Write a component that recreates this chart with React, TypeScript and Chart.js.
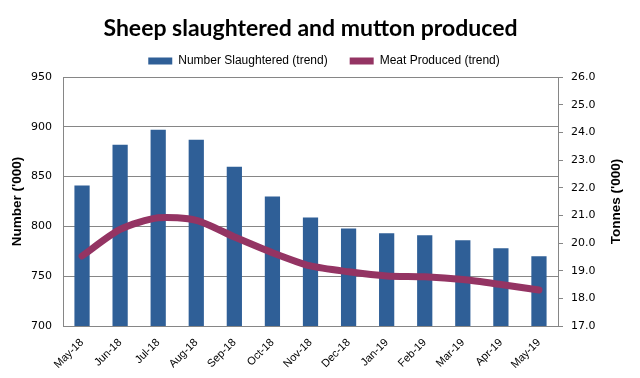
import React, { useEffect, useRef } from "react";
import { Chart, registerables } from "chart.js";

Chart.register(...registerables);

const categories = [
  "May-18", "Jun-18", "Jul-18", "Aug-18", "Sep-18", "Oct-18", "Nov-18",
  "Dec-18", "Jan-19", "Feb-19", "Mar-19", "Apr-19", "May-19",
];
const numberSlaughtered = [841, 882, 897, 887, 860, 830, 809, 798, 793, 791, 786, 778, 770];
const meatProduced = [19.53, 20.49, 20.91, 20.82, 20.22, 19.65, 19.17, 18.96, 18.81, 18.78, 18.68, 18.5, 18.3];

const leftTicks = { min: 700, max: 950, step: 50 };
const rightTicks = { min: 17, max: 26, step: 1 };

const BAR_COLOR = "#2F5F97";
const LINE_COLOR = "#943463";
const AXIS_COLOR = "#868686";

const rightTitlePlugin = {
  id: "rightTitle",
  afterDraw(chart: any) {
    const ctx = chart.ctx;
    const area = chart.chartArea;
    const s = chart.scales.y1;
    ctx.save();
    ctx.translate(s.right - 24, (area.top + area.bottom) / 2);
    ctx.rotate(-Math.PI / 2);
    ctx.font = "bold 13.5px 'Liberation Sans'";
    ctx.fillStyle = "#000";
    ctx.textAlign = "center";
    ctx.textBaseline = "middle";
    ctx.fillText("Tonnes ('000)", 0, 0);
    ctx.restore();
  },
};

export default function App() {
  const ref = useRef<HTMLCanvasElement>(null);
  useEffect(() => {
    document.body.style.margin = "0";
    const chart = new Chart(ref.current!, {
      type: "bar",
      data: {
        labels: categories,
        datasets: [
          {
            type: "line",
            label: "Meat Produced (trend)",
            data: meatProduced,
            yAxisID: "y1",
            borderColor: LINE_COLOR,
            backgroundColor: LINE_COLOR,
            borderWidth: 7,
            borderCapStyle: "round",
            borderJoinStyle: "round",
            pointRadius: 0,
            pointStyle: "line",
            tension: 0.25,
            fill: false,
          } as any,
          {
            type: "bar",
            label: "Number Slaughtered (trend)",
            data: numberSlaughtered,
            yAxisID: "y",
            backgroundColor: BAR_COLOR,
            borderWidth: 0,
            pointStyle: "rect",
            categoryPercentage: 1,
            barPercentage: 0.4,
          } as any,
        ],
      },
      options: {
        responsive: false,
        animation: false,
        layout: { padding: { left: 8, right: 0, top: 0, bottom: 0 } },
        plugins: {
          title: {
            display: true,
            text: "Sheep slaughtered and mutton produced",
            fullSize: false,
            color: "#000",
            font: { family: "Lato", size: 23, weight: "bold" },
            padding: { top: 15, bottom: -9.6 },
          },
          legend: {
            display: true,
            reverse: true,
            labels: {
              usePointStyle: true,
              pointStyleWidth: 24,
              boxHeight: 7,
              padding: 22,
              color: "#000",
              font: { family: "Liberation Sans", size: 12 },
            },
          },
          tooltip: { enabled: false },
        },
        scales: {
          x: {
            grid: { display: false },
            border: { display: true, color: AXIS_COLOR },
            ticks: {
              color: "#000",
              maxRotation: 45,
              minRotation: 45,
              autoSkip: false,
              padding: 2,
              font: { family: "Liberation Sans", size: 11 },
            },
            afterFit(scale: any) {
              scale.height = 52;
            },
          },
          y: {
            position: "left",
            min: leftTicks.min,
            max: leftTicks.max,
            ticks: {
              stepSize: leftTicks.step,
              color: "#000",
              padding: 11,
              font: { family: "DejaVu Sans", size: 11 },
            },
            grid: { color: AXIS_COLOR, drawTicks: false },
            border: { display: true, color: AXIS_COLOR },
            title: {
              display: true,
              text: "Number ('000)",
              color: "#000",
              font: { family: "Liberation Sans", size: 13.5, weight: "bold" },
              padding: { top: 1, bottom: 0 },
            },
            afterFit(scale: any) {
              scale.width = 55;
            },
          },
          y1: {
            position: "right",
            min: rightTicks.min,
            max: rightTicks.max,
            ticks: {
              stepSize: rightTicks.step,
              color: "#000",
              padding: 8,
              font: { family: "DejaVu Sans", size: 11 },
              callback: (v: any) => Number(v).toFixed(1),
            },
            grid: { color: AXIS_COLOR, drawOnChartArea: false, drawTicks: true, tickLength: 5 },
            border: { display: true, color: AXIS_COLOR },
            afterFit(scale: any) {
              scale.width = 82;
            },
          },
        },
      } as any,
      plugins: [rightTitlePlugin],
    });
    return () => chart.destroy();
  }, []);
  return (
    <div style={{ width: 640, height: 378 }}>
      <canvas ref={ref} width={640} height={378} />
    </div>
  );
}
